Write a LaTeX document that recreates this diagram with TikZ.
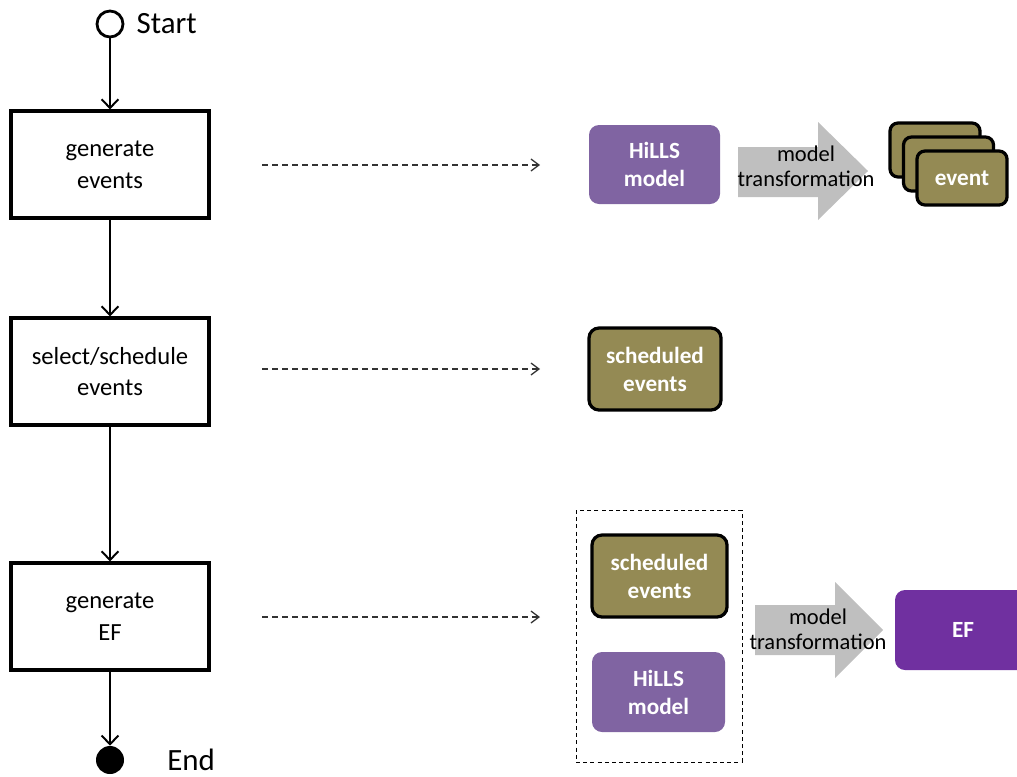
\documentclass[tikz,border=0pt]{standalone}
\usepackage{fontspec}
\setmainfont{Carlito}
\usetikzlibrary{arrows.meta,positioning}
\definecolor{hillsPurple}{HTML}{8064A2}
\definecolor{efPurple}{HTML}{7030A0}
\definecolor{eventOlive}{HTML}{948A54}
\definecolor{transGray}{HTML}{BFBFBF}

\begin{document}
\begin{tikzpicture}[
  x=0.25mm,y=-0.25mm,
  font=\fontsize{17.5}{22.7}\selectfont,
  actbox/.style={draw,line width=2.2pt,minimum width=49.5mm,minimum height=26.75mm,align=center,inner sep=0pt},
  flow/.style={-{Straight Barb[length=2.2mm,width=4.2mm]},line width=1.4pt},
  maps/.style={-{Straight Barb[length=2mm,width=3mm]},line width=0.9pt,draw=black!80,dash pattern=on 1.5mm off 1mm},
  tagtext/.style={font=\fontsize{16.5}{20}\selectfont\bfseries,text=white,align=center,inner sep=0pt},
  hills/.style={tagtext,fill=hillsPurple,rounded corners=2.5mm,minimum width=33mm,minimum height=20mm},
  evbox/.style={tagtext,fill=eventOlive,draw=black,line width=2.3pt,rounded corners=2.5mm,minimum width=33mm,minimum height=20.5mm},
  fatarrow/.style={fill=transGray},
  translabel/.style={font=\fontsize{16}{17.8}\selectfont,align=center,inner sep=0pt}
]
  \useasboundingbox (0,0) rectangle (1017,776);

  % activity flow
  \node[circle,draw,line width=2pt,minimum size=6.5mm,inner sep=0pt] (start) at (110,24) {};
  \node[right=3mm of start,inner sep=0pt,font=\fontsize{22}{26}\selectfont] (startlbl) {Start};
  \node[actbox] (genev) at (110,164.5) {generate\\events};
  \node[actbox] (selev) at (110,371.5) {select/schedule\\events};
  \node[actbox] (genef) at (110,616.5) {generate\\EF};
  \node[circle,fill=black,minimum size=7mm,inner sep=0pt] (end) at (110,760) {};
  \node[anchor=base west,inner sep=0pt,font=\fontsize{22}{26}\selectfont] (endlbl) at (167,770) {End};
  \draw[flow] (start) -- (genev);
  \draw[flow] (genev) -- (selev);
  \draw[flow] (selev) -- (genef);
  \draw[flow] (genef) -- (end);

  % mapping arrows
  \coordinate (m1a) at (262,165);
  \coordinate (m1b) at (540,165);
  \coordinate (m2a) at (262,369);
  \coordinate (m2b) at (540,369);
  \coordinate (m3a) at (262,617);
  \coordinate (m3b) at (540,617);
  \draw[maps] (m1a) -- (m1b);
  \draw[maps] (m2a) -- (m2b);
  \draw[maps] (m3a) -- (m3b);

  % row 1: HiLLS model to events
  \node[hills,minimum width=32.75mm,minimum height=19.75mm] (hills1) at (654.5,164.5) {HiLLS\\model};
  \fill[fatarrow] (738,147) -- (818,147) -- (818,122) -- (868,171) -- (818,220) -- (818,197) -- (738,197) -- cycle;
  \node[translabel] (trans1) at (806,166) {model\\transformation};
  \node[evbox,minimum width=22.5mm,minimum height=13.5mm,rounded corners=2mm] (ev3) at (935,150) {};
  \node[evbox,minimum width=22.5mm,minimum height=13.5mm,rounded corners=2mm] (ev2) at (948.5,164) {};
  \node[evbox,minimum width=22.5mm,minimum height=13.5mm,rounded corners=2mm] (ev1) at (962,178) {event};

  % row 2: scheduled events
  \node[evbox] (sched1) at (655,369) {scheduled\\events};

  % row 3: scheduled events + HiLLS model to EF
  \node[evbox,minimum width=33.75mm] (sched2) at (659.5,576) {scheduled\\events};
  \node[hills,minimum width=33.25mm] (hills2) at (658.5,692) {HiLLS\\model};
  \draw[line width=0.7pt,dash pattern=on 1mm off 0.8mm] (576,510) rectangle (742,762);
  \fill[fatarrow] (755,605) -- (835,605) -- (835,582) -- (883,630) -- (835,678) -- (835,655) -- (755,655) -- cycle;
  \node[translabel] (trans2) at (818,629) {model\\transformation};
  \node[tagtext,fill=efPurple,rounded corners=2.5mm,minimum width=34mm,minimum height=20mm] (ef) at (963,630) {EF};
\end{tikzpicture}
\end{document}
